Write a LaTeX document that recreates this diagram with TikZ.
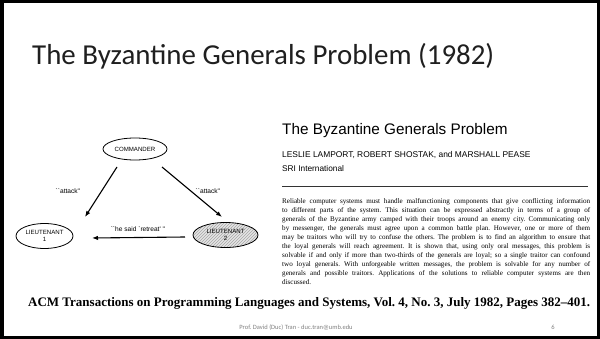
\documentclass[tikz,border=0pt]{standalone}
\usepackage{fontspec}
\setmainfont{Liberation Serif}
\newfontfamily\titlefont{Carlito}
\newfontfamily\helv{Liberation Sans}
\usetikzlibrary{patterns,arrows.meta,shapes.geometric,calc}
\frenchspacing
\tikzset{
  gen/.style={draw, ellipse, line width=0.8pt, inner sep=0pt, minimum width=#1, minimum height=25pt, font=\helv\fontsize{6.1}{7.2}\selectfont, align=center},
  msg/.style={-{Latex[length=6pt,width=4.5pt]}, line width=1.1pt},
  lbl/.style={font=\helv\fontsize{6.6}{7}\selectfont, inner sep=0pt},
  txt/.style={inner sep=0pt, anchor=base west},
}
\begin{document}
\begin{tikzpicture}[x=1pt,y=-1pt]
\useasboundingbox (0,0) rectangle (600,339);
\fill[white] (0,0) rectangle (600,339);
\draw[line width=3.5pt] (1.75,1.75) rectangle (598.25,337.25);
% title
\node[txt, font=\titlefont\fontsize{28.9}{30}\selectfont, text=black!88] (title) at (32,65) {The Byzantine Generals Problem (1982)};
% diagram
\node[gen=64pt, minimum height=22pt] (cmd) at (135,149) {COMMANDER};
\node[gen=57pt] (l1) at (44.5,236) {LIEUTENANT\\1};
\node[gen=65pt, preaction={fill=gray!20}, pattern=north east lines, pattern color=black!35] (l2) at (225.5,235) {LIEUTENANT\\2};
\draw[msg] ($(cmd)+(-18,18)$) -- ($(l1)+(40.5,-19)$);
\draw[msg] ($(cmd)+(27,18)$) -- ($(l2)+(-3.5,-18)$);
\draw[msg] ($(l2)+(-40.5,2)$) -- ($(l1)+(47.5,2)$);
\node[lbl] (a1) at (68,191) {``attack''};
\node[lbl] (a2) at (208,191) {``attack''};
\node[lbl] (a3) at (138,229) {``he said `retreat' ''};
% paper header
\node[txt, font=\helv\fontsize{15.3}{17}\selectfont] (ptitle) at (282,135) {The Byzantine Generals Problem};
\node[txt, font=\helv\fontsize{8.4}{9}\selectfont] (auth) at (282,158) {LESLIE LAMPORT, ROBERT SHOSTAK, and MARSHALL PEASE};
\node[txt, font=\helv\fontsize{8.3}{9}\selectfont] (sri) at (282,172) {SRI International};
\coordinate (r1) at (282,186);
\coordinate (r2) at (588,186);
\draw[line width=0.8pt, black!80] (r1) -- (r2);
% abstract
\foreach \t [count=\i from 0] in {
{Reliable computer systems must handle malfunctioning components that give conflicting information},
{to different parts of the system. This situation can be expressed abstractly in terms of a group of},
{generals of the Byzantine army camped with their troops around an enemy city. Communicating only},
{by messenger, the generals must agree upon a common battle plan. However, one or more of them},
{may be traitors who will try to confuse the others. The problem is to find an algorithm to ensure that},
{the loyal generals will reach agreement. It is shown that, using only oral messages, this problem is},
{solvable if and only if more than two-thirds of the generals are loyal; so a single traitor can confound},
{two loyal generals. With unforgeable written messages, the problem is solvable for any number of},
{generals and possible traitors. Applications of the solutions to reliable computer systems are then}}
{\node[txt, font=\fontsize{7.1}{7.5}\selectfont] (ab\i) at (282,{204+8.9*\i}) {\makebox[308pt][s]{\t}};}
\node[txt, font=\fontsize{7.1}{7.5}\selectfont] (ab9) at (282,284.1) {discussed.};
% citation
\node[txt, font=\bfseries\fontsize{13}{15}\selectfont] (acm) at (28,306) {ACM Transactions on Programming Languages and Systems, Vol. 4, No. 3, July 1982, Pages 382--401.};
% footer
\node[inner sep=0pt, anchor=base, font=\titlefont\fontsize{6.5}{7}\selectfont, text=black!50] (foot) at (296,329) {Prof. David (Duc) Tran - duc.tran@umb.edu};
\node[inner sep=0pt, anchor=base, font=\titlefont\fontsize{6.5}{7}\selectfont, text=black!50] (pg) at (553,329) {6};
\end{tikzpicture}
\end{document}
